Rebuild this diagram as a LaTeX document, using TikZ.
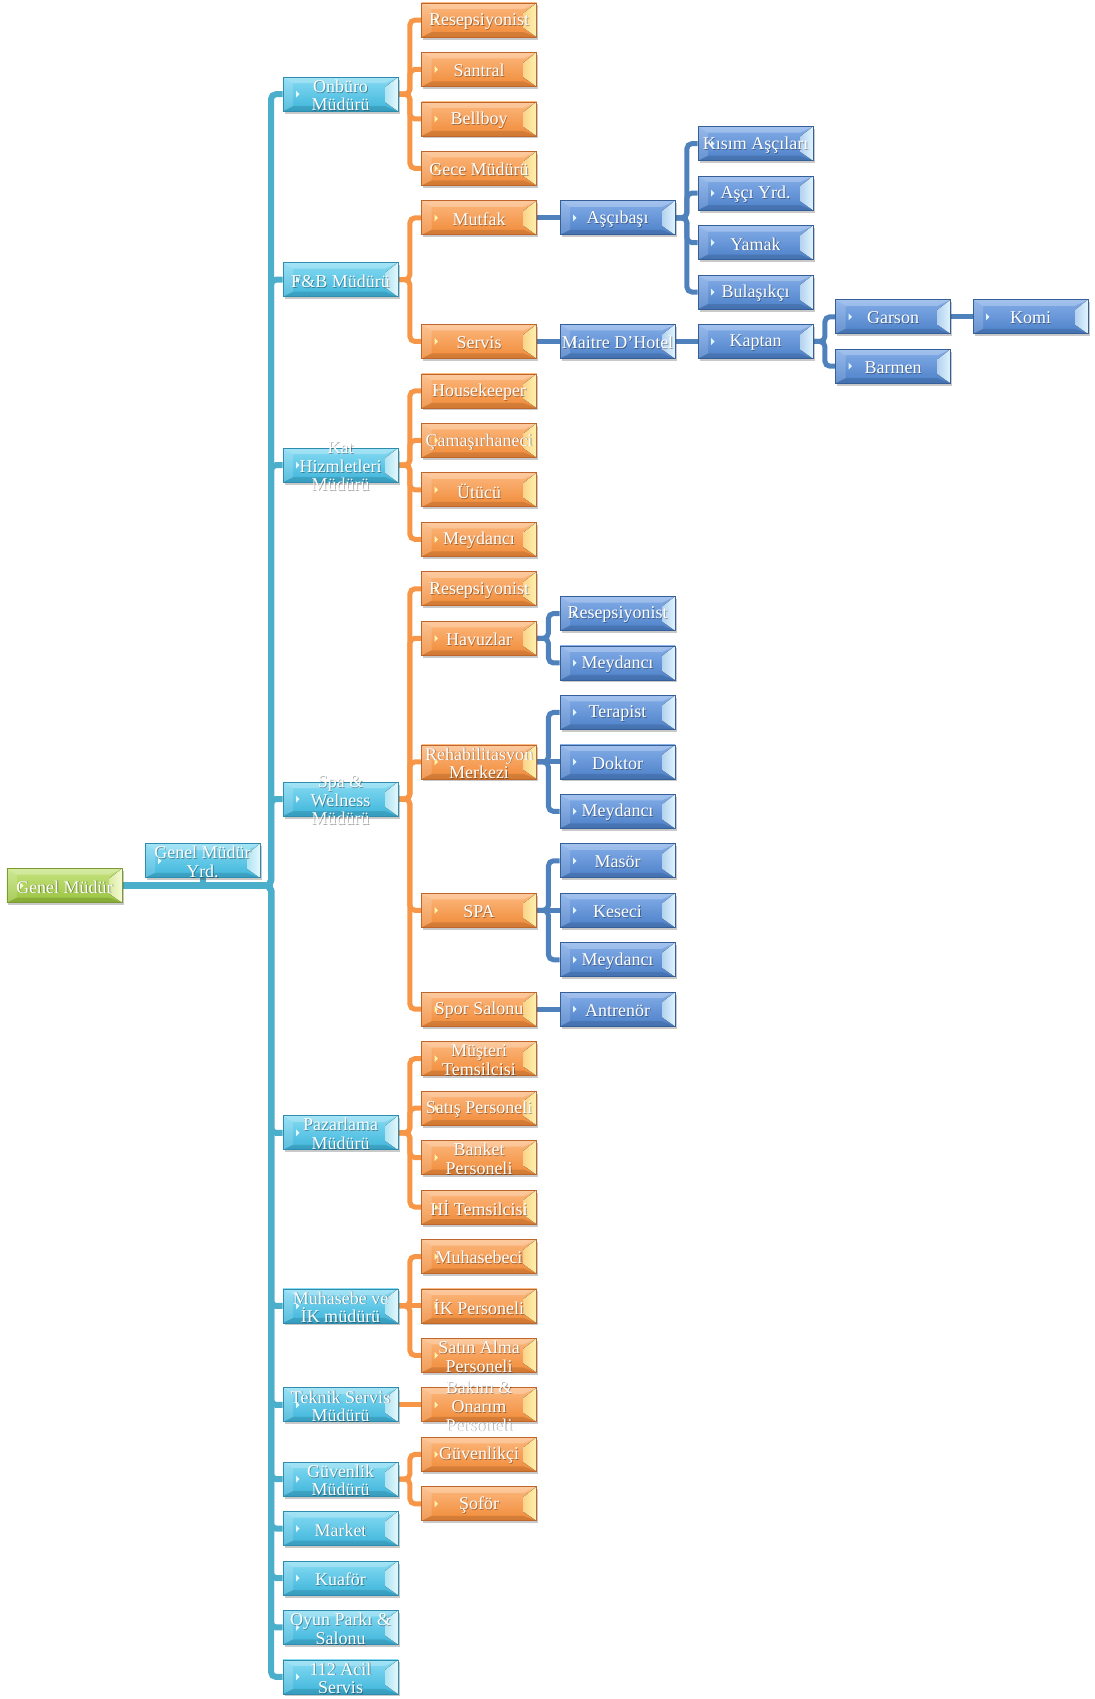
\documentclass[tikz,border=0pt]{standalone}
\usepackage{fontspec}
\setmainfont{Liberation Serif}
\usetikzlibrary{shadows,backgrounds}

\definecolor{cyTop}{HTML}{86DBF3}
\definecolor{cyBot}{HTML}{3DB4DA}
\definecolor{cyBrd}{HTML}{2E8DAE}
\definecolor{cyBev}{HTML}{E2F8FD}
\definecolor{orTop}{HTML}{FCB87E}
\definecolor{orBot}{HTML}{F08A38}
\definecolor{orBrd}{HTML}{BE662C}
\definecolor{orBev}{HTML}{FFF3AE}
\definecolor{blTop}{HTML}{84ADE8}
\definecolor{blBot}{HTML}{4C80C8}
\definecolor{blBrd}{HTML}{365F98}
\definecolor{blBev}{HTML}{E0F4FF}
\definecolor{grTop}{HTML}{C8E482}
\definecolor{grBot}{HTML}{98C23C}
\definecolor{grBrd}{HTML}{7A9A35}
\definecolor{grBev}{HTML}{F6FBD2}
\definecolor{cyLine}{HTML}{4BAECB}
\definecolor{orLine}{HTML}{F79646}
\definecolor{blLine}{HTML}{4F81BD}

\tikzset{
  bevbox/.style n args={4}{
    rectangle, minimum width=115bp, minimum height=34bp, inner sep=0pt,
    draw=#3, line width=0.8bp, top color=#2, bottom color=#1,
    drop shadow={shadow xshift=1.5bp, shadow yshift=-2.5bp, opacity=0.3, fill=black!70},
    path picture={
      \coordinate (pNE) at (path picture bounding box.north east);
      \coordinate (pSE) at (path picture bounding box.south east);
      \coordinate (pNW) at (path picture bounding box.north west);
      \coordinate (pSW) at (path picture bounding box.south west);
      \coordinate (pW) at (path picture bounding box.west);
      \fill[white, opacity=0.25] (pNW) -- (pNE) -- ([xshift=-13bp,yshift=-6bp]pNE) -- ([xshift=10bp,yshift=-6bp]pNW) -- cycle;
      \fill[black, opacity=0.12] (pSW) -- (pSE) -- ([xshift=-13bp,yshift=5bp]pSE) -- ([xshift=10bp,yshift=5bp]pSW) -- cycle;
      \fill[white, opacity=0.15] (pNW) -- ([xshift=10bp,yshift=-6bp]pNW) -- ([xshift=10bp,yshift=5bp]pSW) -- (pSW) -- cycle;
      \fill[left color=#4!70!#1, right color=#4] (pNE) -- ([xshift=-13bp,yshift=-10bp]pNE) -- ([xshift=-13bp,yshift=9bp]pSE) -- (pSE) -- cycle;
      \fill[#4] ([xshift=13bp,yshift=3.5bp]pW) -- ([xshift=16.5bp]pW) -- ([xshift=13bp,yshift=-3.5bp]pW) -- cycle;
    }
  },
  cybox/.style={bevbox={cyBot}{cyTop}{cyBrd}{cyBev}},
  orbox/.style={bevbox={orBot}{orTop}{orBrd}{orBev}},
  blbox/.style={bevbox={blBot}{blTop}{blBrd}{blBev}},
  grbox/.style={bevbox={grBot}{grTop}{grBrd}{grBev}},
  txt/.style={text=white, align=center, inner sep=0pt, font=\fontsize{18bp}{18.7bp}\selectfont},
  txtsh/.style={text=black, text opacity=0.35, align=center, inner sep=0pt, font=\fontsize{18bp}{18.7bp}\selectfont},
  cline/.style={draw=cyLine, line width=6bp, rounded corners=5bp},
  oline/.style={draw=orLine, line width=5bp, rounded corners=5bp},
  bline/.style={draw=blLine, line width=5bp, rounded corners=5bp},
}

\newcommand{\mkbox}[5]{%
  \node[#1] (#2) at (#3,{20+24.73*#4}) {};
  \node[txtsh] (#2-s) at ({#3+0.9},{22.2+24.73*#4}) {#5};
  \node[txt] (#2-t) at (#3,{21.3+24.73*#4}) {#5};
}

\begin{document}
\begin{tikzpicture}[x=1bp,y=-1bp]
\useasboundingbox (0,0) rectangle (1094,1699);

% level 0
\mkbox{grbox}{gm}{64.5}{35}{Genel Müdür}
\mkbox{cybox}{gmy}{202.5}{34}{Genel Müdür\\Yrd.}

% level 1
\mkbox{cybox}{c1}{340.5}{3}{Onbüro\\Müdürü}
\mkbox{cybox}{c2}{340.5}{10.5}{F\&B Müdürü}
\mkbox{cybox}{c3}{340.5}{18}{Kat\\Hizmletleri\\Müdürü}
\mkbox{cybox}{c4}{340.5}{31.5}{Spa \&\\Welness\\Müdürü}
\mkbox{cybox}{c5}{340.5}{45}{Pazarlama\\Müdürü}
\mkbox{cybox}{c6}{340.5}{52}{Muhasebe ve\\İK müdürü}
\mkbox{cybox}{c7}{340.5}{56}{Teknik Servis\\Müdürü}
\mkbox{cybox}{c8}{340.5}{59}{Güvenlik\\Müdürü}
\mkbox{cybox}{c9}{340.5}{61}{Market}
\mkbox{cybox}{c10}{340.5}{63}{Kuaför}
\mkbox{cybox}{c11}{340.5}{65}{Oyun Parkı \&\\Salonu}
\mkbox{cybox}{c12}{340.5}{67}{112 Acil\\Servis}

% level 2
\mkbox{orbox}{o1}{479}{0}{Resepsiyonist}
\mkbox{orbox}{o2}{479}{2}{Santral}
\mkbox{orbox}{o3}{479}{4}{Bellboy}
\mkbox{orbox}{o4}{479}{6}{Gece Müdürü}
\mkbox{orbox}{o5}{479}{8}{Mutfak}
\mkbox{orbox}{o6}{479}{13}{Servis}
\mkbox{orbox}{o7}{479}{15}{Housekeeper}
\mkbox{orbox}{o8}{479}{17}{Çamaşırhaneci}
\mkbox{orbox}{o9}{479}{19}{Ütücü}
\mkbox{orbox}{o10}{479}{21}{Meydancı}
\mkbox{orbox}{o11}{479}{23}{Resepsiyonist}
\mkbox{orbox}{o12}{479}{25}{Havuzlar}
\mkbox{orbox}{o13}{479}{30}{Rehabilitasyon\\Merkezi}
\mkbox{orbox}{o14}{479}{36}{SPA}
\mkbox{orbox}{o15}{479}{40}{Spor Salonu}
\mkbox{orbox}{o16}{479}{42}{Müşteri\\Temsilcisi}
\mkbox{orbox}{o17}{479}{44}{Satış Personeli}
\mkbox{orbox}{o18}{479}{46}{Banket\\Personeli}
\mkbox{orbox}{o19}{479}{48}{Hİ Temsilcisi}
\mkbox{orbox}{o20}{479}{50}{Muhasebeci}
\mkbox{orbox}{o21}{479}{52}{İK Personeli}
\mkbox{orbox}{o22}{479}{54}{Satın Alma\\Personeli}
\mkbox{orbox}{o23}{479}{56}{Bakım \&\\Onarım\\Personeli}
\mkbox{orbox}{o24}{479}{58}{Güvenlikçi}
\mkbox{orbox}{o25}{479}{60}{Şoför}

% level 3
\mkbox{blbox}{b1}{617.5}{8}{Aşçıbaşı}
\mkbox{blbox}{b2}{617.5}{13}{Maitre D'Hotel}
\mkbox{blbox}{b3}{617.5}{24}{Resepsiyonist}
\mkbox{blbox}{b4}{617.5}{26}{Meydancı}
\mkbox{blbox}{b5}{617.5}{28}{Terapist}
\mkbox{blbox}{b6}{617.5}{30}{Doktor}
\mkbox{blbox}{b7}{617.5}{32}{Meydancı}
\mkbox{blbox}{b8}{617.5}{34}{Masör}
\mkbox{blbox}{b9}{617.5}{36}{Keseci}
\mkbox{blbox}{b10}{617.5}{38}{Meydancı}
\mkbox{blbox}{b11}{617.5}{40}{Antrenör}

% level 4
\mkbox{blbox}{d1}{755.5}{5}{Kısım Aşçıları}
\mkbox{blbox}{d2}{755.5}{7}{Aşçı Yrd.}
\mkbox{blbox}{d3}{755.5}{9}{Yamak}
\mkbox{blbox}{d4}{755.5}{11}{Bulaşıkçı}
\mkbox{blbox}{d5}{755.5}{13}{Kaptan}

% level 5, 6
\mkbox{blbox}{e1}{893}{12}{Garson}
\mkbox{blbox}{e2}{893}{14}{Barmen}
\mkbox{blbox}{f1}{1030.5}{12}{Komi}

\coordinate (trunk) at (271,{20+24.73*35});

\begin{scope}[on background layer]
  \foreach \c in {c1,c2,c3,c4,c5,c6,c7,c8,c9,c10,c11,c12}
    \draw[cline] (gm.east) -- (trunk) |- (\c.west);
  \draw[cline] (gmy.south) -- (gmy.south |- gm.east);
  % orange
  \foreach \c in {o1,o2,o3,o4} \draw[oline] (c1.east) -- ++(11.5,0) |- (\c.west);
  \foreach \c in {o5,o6} \draw[oline] (c2.east) -- ++(11.5,0) |- (\c.west);
  \foreach \c in {o7,o8,o9,o10} \draw[oline] (c3.east) -- ++(11.5,0) |- (\c.west);
  \foreach \c in {o11,o12,o13,o14,o15} \draw[oline] (c4.east) -- ++(11.5,0) |- (\c.west);
  \foreach \c in {o16,o17,o18,o19} \draw[oline] (c5.east) -- ++(11.5,0) |- (\c.west);
  \foreach \c in {o20,o22} \draw[oline] (c6.east) -- ++(11.5,0) |- (\c.west);
  \draw[oline] (c6.east) -- (o21.west);
  \draw[oline] (c7.east) -- (o23.west);
  \foreach \c in {o24,o25} \draw[oline] (c8.east) -- ++(11.5,0) |- (\c.west);
  % blue
  \draw[bline] (o5.east) -- (b1.west);
  \draw[bline] (o6.east) -- (b2.west);
  \foreach \c in {b3,b4} \draw[bline] (o12.east) -- ++(11.5,0) |- (\c.west);
  \foreach \c in {b5,b7} \draw[bline] (o13.east) -- ++(11.5,0) |- (\c.west);
  \draw[bline] (o13.east) -- (b6.west);
  \foreach \c in {b8,b10} \draw[bline] (o14.east) -- ++(11.5,0) |- (\c.west);
  \draw[bline] (o14.east) -- (b9.west);
  \draw[bline] (o15.east) -- (b11.west);
  \foreach \c in {d1,d2,d3,d4} \draw[bline] (b1.east) -- ++(11.5,0) |- (\c.west);
  \draw[bline] (b2.east) -- (d5.west);
  \foreach \c in {e1,e2} \draw[bline] (d5.east) -- ++(11.5,0) |- (\c.west);
  \draw[bline] (e1.east) -- (f1.west);
\end{scope}
\end{tikzpicture}
\end{document}
